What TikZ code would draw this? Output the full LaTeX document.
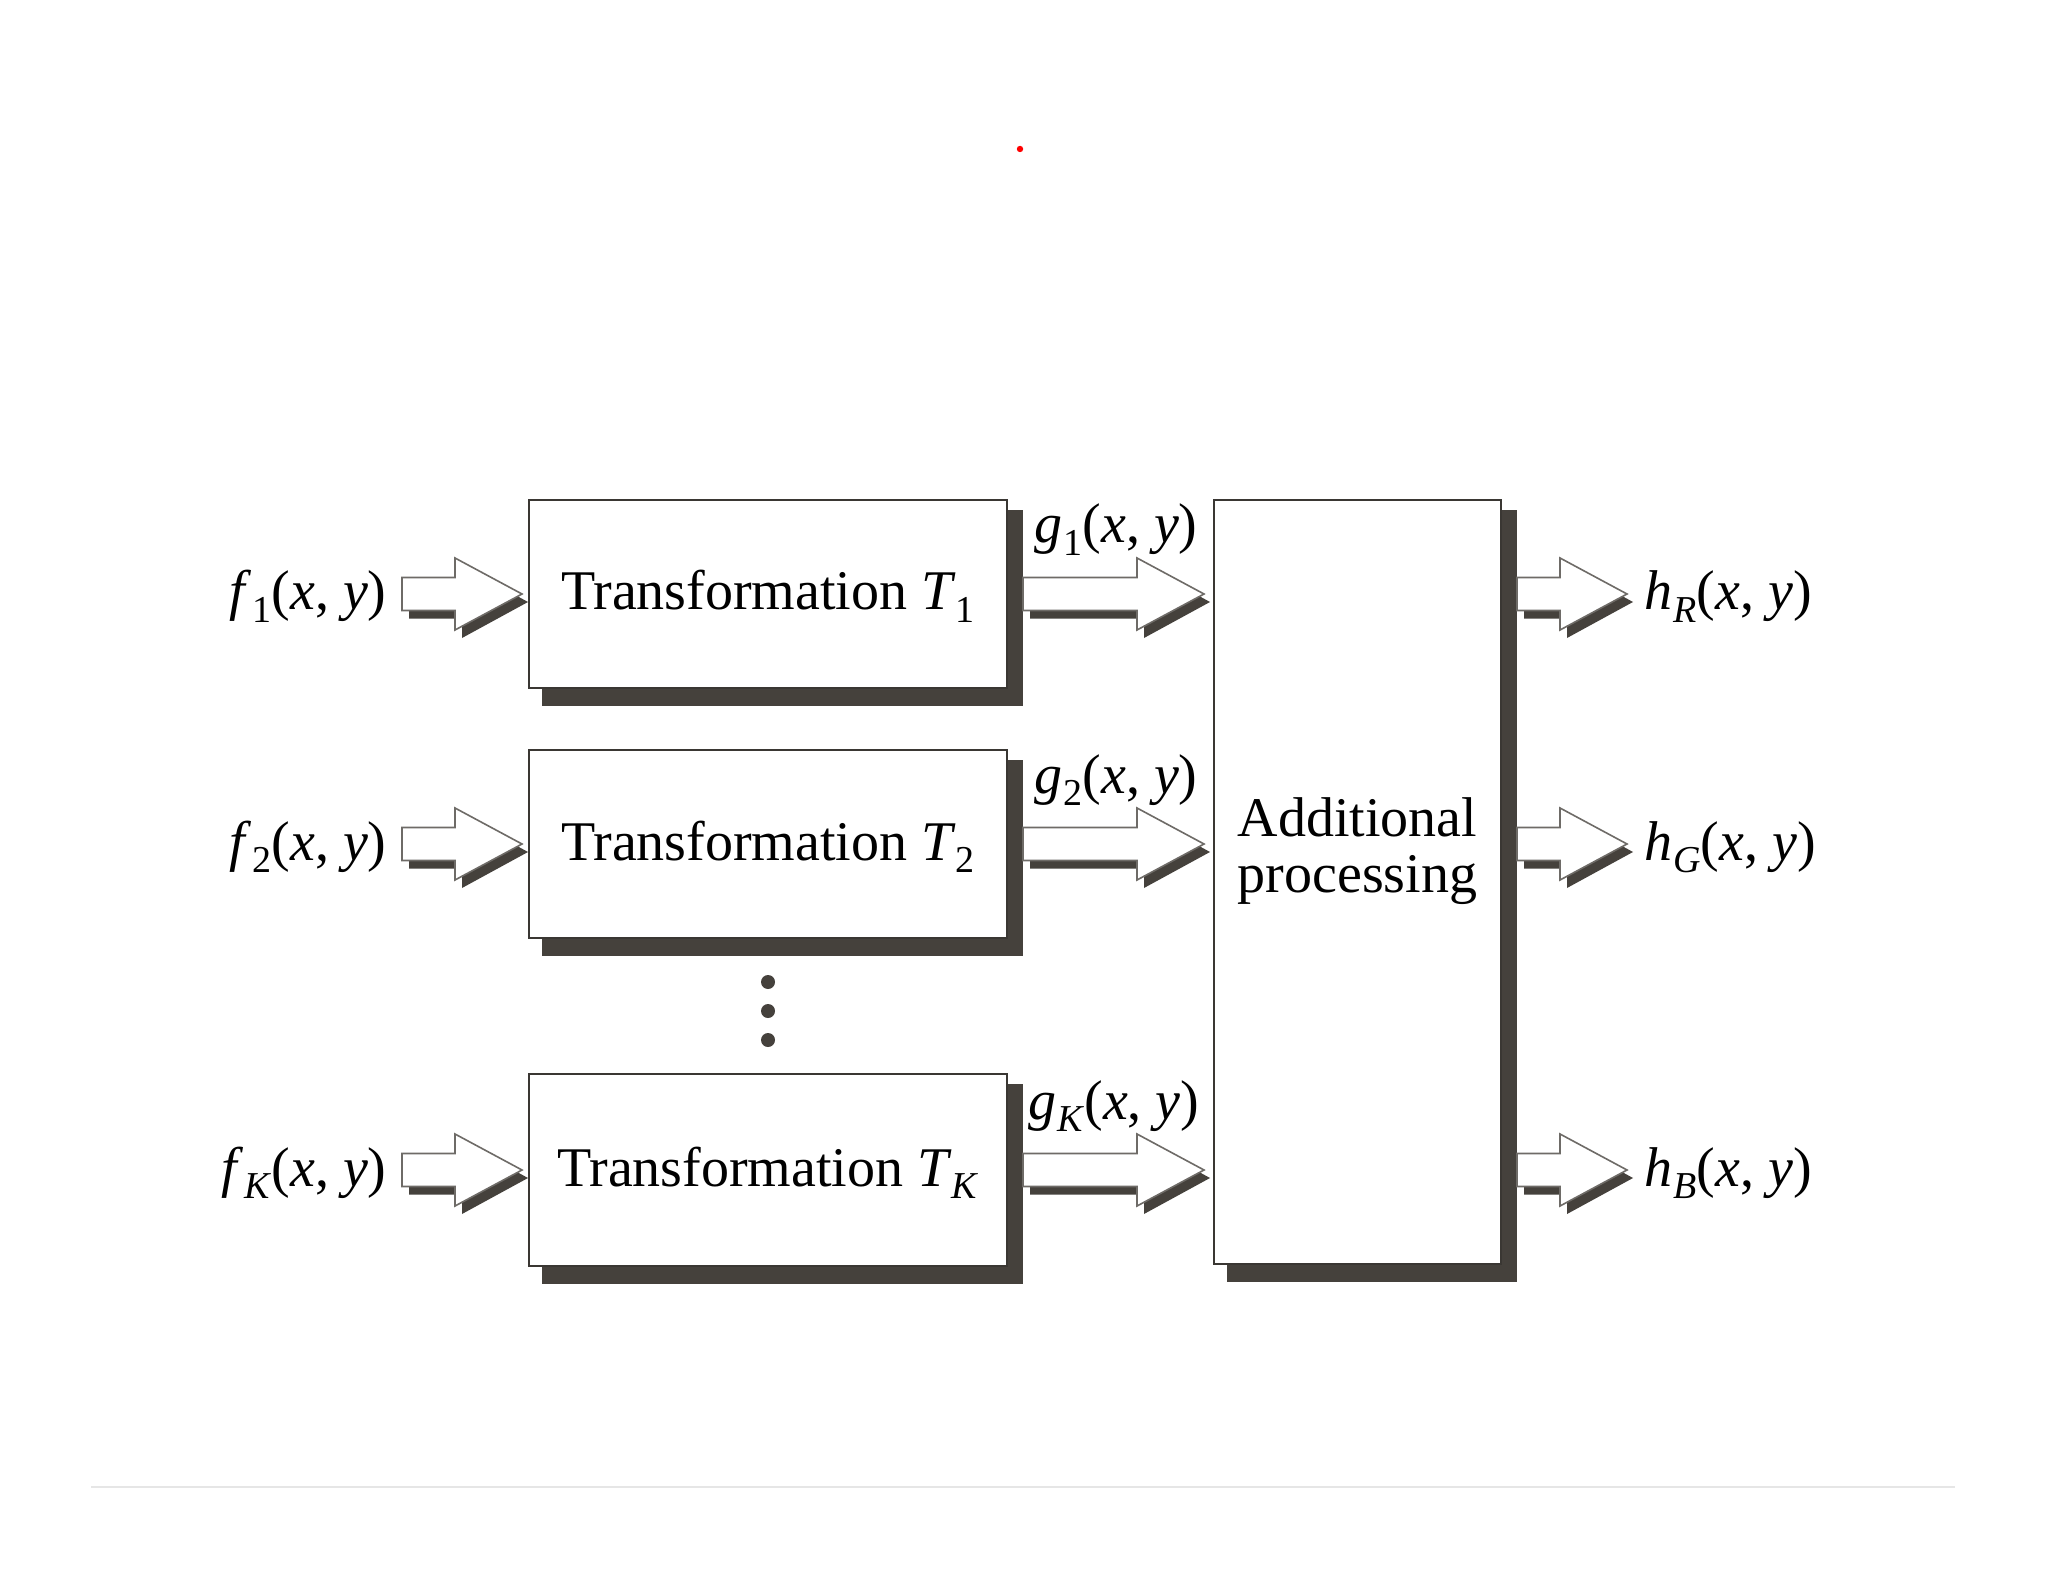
\documentclass[tikz,border=0pt]{standalone}
\usepackage{fontspec}
\setmainfont{Liberation Serif}
\usetikzlibrary{calc,backgrounds}
\definecolor{shadowc}{HTML}{45413C}
\definecolor{edgec}{HTML}{3A3733}
\definecolor{arrowedge}{HTML}{6E6B67}
\definecolor{rulegray}{HTML}{E6E6E6}
\newcommand{\sbs}[1]{\raisebox{-0.22em}{\fontsize{19}{19}\selectfont #1}}
\newcommand{\sig}[2]{\textit{#1}\kern0.5pt\sbs{#2}(\textit{x}, \textit{y})}
\newcommand{\barrow}[2]{%
  \fill[shadowc] let \p1=(#1), \p2=(#2) in
    (\x1+3.5pt,\y1+4.25pt) -- (\x2-30pt,\y1+4.25pt) -- (\x2-30pt,\y1+14pt) --
    (\x2+3pt,\y1-4pt) -- (\x2-30pt,\y1-22pt) -- (\x2-30pt,\y1-12.25pt) --
    (\x1+3.5pt,\y1-12.25pt) -- cycle;
  \filldraw[fill=white, draw=arrowedge, line width=0.8pt] let \p1=(#1), \p2=(#2) in
    (\x1,\y1+8.25pt) -- (\x2-33.5pt,\y1+8.25pt) -- (\x2-33.5pt,\y1+18pt) --
    (\x2,\y1) -- (\x2-33.5pt,\y1-18pt) -- (\x2-33.5pt,\y1-8.25pt) --
    (\x1,\y1-8.25pt) -- cycle;
}
\begin{document}
\begin{tikzpicture}[x=0.5pt,y=-0.5pt,
  tbox/.style={draw=edgec, line width=1pt, fill=white, minimum width=239pt,
    minimum height=94pt, inner sep=0pt, font=\fontsize{28}{28}\selectfont,
    text height=18pt, text depth=2pt},
  apbox/.style={draw=edgec, line width=1pt, fill=white, minimum width=143.5pt,
    minimum height=382pt, inner sep=0pt},
  lab/.style={inner sep=0pt, font=\fontsize{28}{28}\selectfont},
]
\useasboundingbox (0,0) rectangle (2048,1582);

% boxes
\node[tbox] (t1) at (768,594) {Transformation \textit{T}\sbs{1}};
\node[tbox] (t2) at (768,844) {Transformation \textit{T}\sbs{2}};
\node[tbox, minimum height=96pt] (tk) at (768,1170) {Transformation \textit{T}\sbs{\textit{K}}};
\node[apbox, label={[lab, align=center, yshift=15.5pt]center:Additional\\processing}] (ap) at (1357.5,882) {};

\begin{scope}[on background layer]
  \fill[white] (0,0) rectangle (2048,1582);
  \foreach \n in {t1,t2,tk,ap}
    \fill[shadowc] ([shift={(14,11)}]\n.north west) rectangle ([shift={(15,17)}]\n.south east);
\end{scope}

% dots
\fill[shadowc] (768,982) circle (3.5pt);
\fill[shadowc] (768,1011) circle (3.5pt);
\fill[shadowc] (768,1040) circle (3.5pt);

% labels
\node[lab, anchor=base east] (f1) at (387,610) {\sig{f}{1}};
\node[lab, anchor=base east] (f2) at (387,860) {\sig{f}{2}};
\node[lab, anchor=base east] (fk) at (387,1186) {\sig{f}{\textit{K}}};
\node[lab, anchor=base] (g1) at (1116,543) {\sig{g}{1}};
\node[lab, anchor=base] (g2) at (1116,793) {\sig{g}{2}};
\node[lab, anchor=base] (gk) at (1114,1119) {\sig{g}{\textit{K}}};
\node[lab, anchor=base west] (hr) at (1644,610) {\sig{h}{\textit{R}}};
\node[lab, anchor=base west] (hg) at (1644,860) {\sig{h}{\textit{G}}};
\node[lab, anchor=base west] (hb) at (1644,1186) {\sig{h}{\textit{B}}};

% arrows
\foreach \f/\t/\h in {f1/t1/hr, f2/t2/hg, fk/tk/hb}{
  \barrow{$(\f.east |- \t.west)+(15,0)$}{$(\t.west)+(-6,0)$}
  \barrow{$(\t.east)+(15,0)$}{$(ap.west |- \t.east)+(-9,0)$}
  \barrow{$(ap.east |- \t.east)+(15,0)$}{$(\h.west |- \t.east)+(-17,0)$}
}

% decorations of the page
\fill[red] (1020,149) circle (1.6pt);
\draw[rulegray, line width=1.2pt] (91,1487) -- (1955,1487);
\end{tikzpicture}
\end{document}
